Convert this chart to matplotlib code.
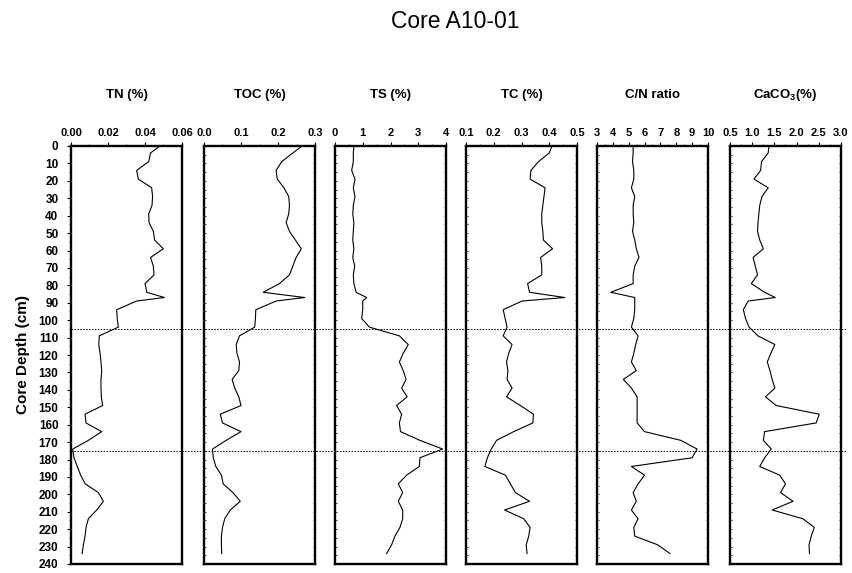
import matplotlib
matplotlib.use('Agg')
import matplotlib.pyplot as plt
from matplotlib.ticker import MultipleLocator

plt.rcParams['font.family'] = ['Liberation Sans', 'DejaVu Sans']
plt.rcParams['mathtext.default'] = 'regular'

# sample depths (cm)
depth = [0, 4, 9, 14, 19, 24, 29, 34, 39, 44, 49, 54, 59, 64, 69, 74, 79, 84, 87,
         89, 94, 99, 104, 109, 114, 119, 124, 129, 134, 139, 144, 149, 154, 159,
         164, 169, 174, 179, 184, 189, 194, 199, 204, 209, 214, 219, 224, 229, 234]

tn = [0.048, 0.043, 0.042, 0.0355, 0.0364, 0.0436, 0.0441, 0.0438, 0.042, 0.0422,
      0.0445, 0.0452, 0.0499, 0.043, 0.0445, 0.0449, 0.040, 0.041, 0.0505,
      0.0355, 0.0247, 0.025, 0.0256, 0.0153, 0.015, 0.0157, 0.0162, 0.0166, 0.0162,
      0.0162, 0.0164, 0.0171, 0.0076, 0.0081, 0.0166, 0.0094, 0.0009, 0.0016,
      0.0034, 0.0052, 0.0077, 0.0148, 0.0175, 0.0139, 0.0094, 0.0081, 0.0076,
      0.0067, 0.006]

toc = [0.265, 0.24, 0.21, 0.195, 0.198, 0.216, 0.229, 0.231, 0.229, 0.222,
       0.231, 0.247, 0.263, 0.249, 0.24, 0.231, 0.204, 0.16, 0.272,
       0.195, 0.14, 0.139, 0.137, 0.096, 0.087, 0.089, 0.096, 0.094, 0.076,
       0.083, 0.094, 0.1, 0.044, 0.05, 0.1, 0.06, 0.023, 0.025,
       0.032, 0.047, 0.052, 0.078, 0.098, 0.071, 0.056, 0.05, 0.047,
       0.047, 0.048]

ts = [0.68, 0.66, 0.66, 0.6, 0.72, 0.66, 0.72, 0.66, 0.64, 0.68,
      0.66, 0.64, 0.68, 0.64, 0.71, 0.66, 0.68, 0.76, 1.14,
      1.0, 1.0, 0.96, 1.24, 2.32, 2.64, 2.46, 2.32, 2.46, 2.56,
      2.4, 2.6, 2.22, 2.4, 2.32, 2.36, 3.06, 3.88, 3.06,
      3.04, 2.58, 2.28, 2.44, 2.28, 2.44, 2.44, 2.34, 2.16,
      2.04, 1.86]

tc = [0.41, 0.40, 0.361, 0.334, 0.331, 0.385, 0.381, 0.377, 0.373, 0.373,
      0.377, 0.379, 0.412, 0.369, 0.373, 0.373, 0.322, 0.329, 0.456,
      0.302, 0.234, 0.241, 0.248, 0.234, 0.266, 0.254, 0.246, 0.251, 0.248,
      0.266, 0.246, 0.296, 0.343, 0.341, 0.272, 0.21, 0.191, 0.177,
      0.168, 0.242, 0.26, 0.278, 0.329, 0.239, 0.308, 0.331, 0.326,
      0.317, 0.32]

cn = [5.28, 5.28, 5.24, 5.32, 5.32, 5.17, 5.38, 5.28, 5.28, 5.32,
      5.24, 5.38, 5.48, 5.65, 5.38, 5.28, 5.28, 3.87, 5.38,
      5.38, 5.38, 5.32, 5.17, 5.59, 5.44, 5.32, 5.17, 5.48, 4.66,
      5.17, 5.53, 5.53, 5.53, 5.53, 6.0, 8.28, 9.31, 9.0,
      5.17, 6.0, 5.59, 5.28, 5.48, 5.17, 5.59, 5.32, 5.38,
      6.83, 7.6]

caco3 = [1.38, 1.36, 1.21, 1.19, 1.04, 1.36, 1.22, 1.17, 1.15, 1.13,
         1.12, 1.17, 1.25, 1.02, 1.07, 1.12, 0.98, 1.28, 1.52,
         0.91, 0.8, 0.85, 0.93, 1.13, 1.51, 1.42, 1.34, 1.4, 1.45,
         1.51, 1.3, 1.54, 2.51, 2.44, 1.28, 1.25, 1.43, 1.28,
         1.17, 1.62, 1.75, 1.64, 1.92, 1.45, 2.14, 2.4, 2.33,
         2.28, 2.29]

titles = ['TN (%)', 'TOC (%)', 'TS (%)', 'TC (%)', 'C/N ratio', r'CaCO$_3$(%)']
tick_labels = [
    ['0.00', '0.02', '0.04', '0.06'],
    ['0.0', '0.1', '0.2', '0.3'],
    ['0', '1', '2', '3', '4'],
    ['0.1', '0.2', '0.3', '0.4', '0.5'],
    ['3', '4', '5', '6', '7', '8', '9', '10'],
    ['0.5', '1.0', '1.5', '2.0', '2.5', '3.0'],
]
minor_steps = [0.01, 0.05, 0.5, 0.05, 0.5, 0.25]
dividers = [105, 175]

series = [tn, toc, ts, tc, cn, caco3]

W, H = 853, 573
lefts = [71, 204, 335, 466, 597, 730]
width = 111
top, bottom = 146, 564

fig = plt.figure(figsize=(W / 100, H / 100), dpi=100)

for i, vals in enumerate(series):
    ax = fig.add_axes([lefts[i] / W, 1 - bottom / H, width / W, (bottom - top) / H])
    ax.plot(vals, depth, color='black', lw=0.8)
    ticks = [float(t) for t in tick_labels[i]]
    ax.set_xlim(ticks[0], ticks[-1])
    ax.set_ylim(240, 0)
    ax.xaxis.tick_top()
    ax.set_xticks(ticks)
    ax.set_xticklabels(tick_labels[i], fontsize=8, fontweight='bold')
    ax.xaxis.set_minor_locator(MultipleLocator(minor_steps[i]))
    ax.tick_params(axis='x', which='major', direction='out', length=3, width=0.8, pad=3)
    ax.tick_params(axis='x', which='minor', direction='out', length=1.5, width=0.6)
    ax.yaxis.set_major_locator(MultipleLocator(10))
    ax.yaxis.set_minor_locator(MultipleLocator(5))
    for s in ax.spines.values():
        s.set_linewidth(1.7)
    if i == 0:
        ax.tick_params(axis='y', which='major', direction='out', length=3, width=0.8,
                       labelsize=8.5, pad=6)
        ax.tick_params(axis='y', which='minor', direction='out', length=1.5, width=0.6)
        for lab in ax.get_yticklabels():
            lab.set_fontweight('bold')
        ax.set_ylabel('Core Depth (cm)', fontsize=11, fontweight='bold', labelpad=6)
    else:
        ax.tick_params(axis='y', which='both', direction='in', length=1.5, width=0.5,
                       right=True, labelleft=False)
    ax.text(0.5, 1 + 51 / (bottom - top), titles[i], transform=ax.transAxes,
            ha='center', va='center', fontsize=9.5, fontweight='bold')

# dotted divider lines across all panels
ov = fig.add_axes([71 / W, 1 - bottom / H, (846 - 71) / W, (bottom - top) / H])
ov.set_ylim(240, 0)
ov.set_xlim(0, 1)
ov.axis('off')
ov.patch.set_alpha(0)
for d in dividers:
    ov.axhline(d, color='black', lw=0.7, ls=(0, (1.5, 1.5)))

fig.text(455 / W, 1 - 22 / H, 'Core A10-01', ha='center', va='center', fontsize=16.5)

fig.savefig('out.png', dpi=100)
